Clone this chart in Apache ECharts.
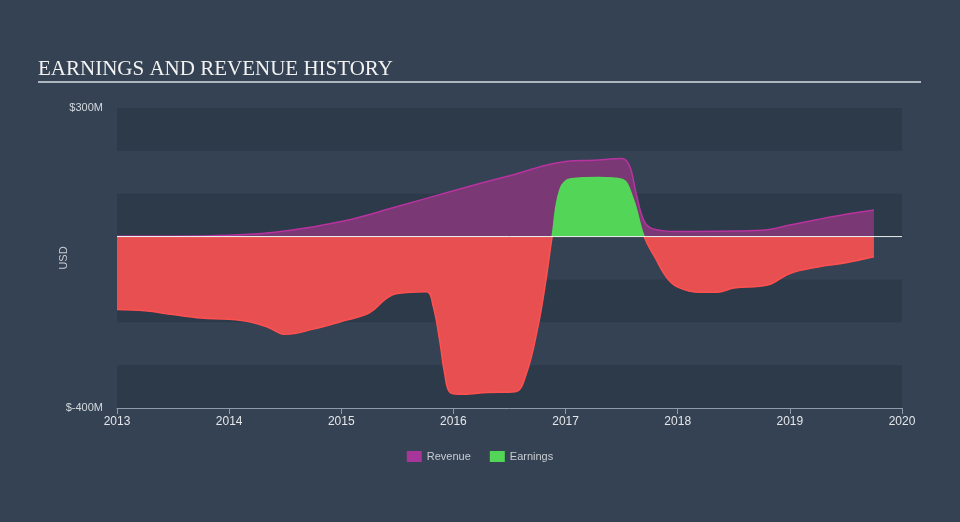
<!DOCTYPE html>
<html>
<head>
<meta charset="utf-8">
<script src="https://cdn.jsdelivr.net/npm/echarts@6/dist/echarts.min.js"></script>
<style>
html,body{margin:0;padding:0;background:#344253;}
#chart{width:960px;height:522px;}
</style>
</head>
<body>
<div id="chart"></div>
<script>
// Revenue (USD millions) by decimal year
const revenueYears = [2013.0, 2013.5, 2014.0, 2014.5, 2015.0, 2015.5, 2016.0, 2016.5, 2017.0, 2017.25, 2017.5, 2017.57, 2017.63, 2017.7, 2017.78, 2018.0, 2018.5, 2018.8, 2019.0, 2019.25, 2019.5, 2019.75];
const revenueValues = [1, 1, 3, 13, 35, 70, 107, 142, 175, 178, 182, 165, 100, 36, 18, 12, 13, 16, 27, 40, 52, 62];

// Earnings (USD millions) by decimal year
const earningsYears = [2013.0, 2013.25, 2013.5, 2013.75, 2014.0, 2014.2, 2014.35, 2014.5, 2014.75, 2015.0, 2015.25, 2015.4, 2015.5, 2015.76, 2015.82, 2015.88, 2015.92, 2015.97, 2016.05, 2016.3, 2016.55, 2016.65, 2016.75, 2016.82, 2016.88, 2016.95, 2017.05, 2017.3, 2017.5, 2017.6, 2017.7, 2017.8, 2017.9, 2018.0, 2018.2, 2018.35, 2018.5, 2018.8, 2019.0, 2019.25, 2019.5, 2019.75];
const earningsValues = [-170, -173, -182, -190, -193, -200, -212, -228, -216, -198, -178, -145, -133, -129, -163, -247, -317, -364, -368, -364, -362, -320, -215, -110, 0, 110, 135, 138, 134, 90, 0, -50, -95, -118, -130, -130, -120, -113, -86, -71, -61, -47];

const yTicksShown = [-400, 300];
const xYears = [2013, 2014, 2015, 2016, 2017, 2018, 2019, 2020];

const revenueData = revenueYears.map((x, i) => [x, revenueValues[i]]);
const earningsData = earningsYears.map((x, i) => [x, earningsValues[i]]);

const Y_MIN = -400, Y_MAX = 300;
const gridTop = 108, gridBottom = 114, H = 522;
const plotH = H - gridTop - gridBottom;
const zeroFrac = (Y_MAX - 0) / (Y_MAX - Y_MIN);
const signGradient = (up, down) => new echarts.graphic.LinearGradient(0, gridTop, 0, gridTop + plotH, [
  { offset: 0, color: up }, { offset: zeroFrac, color: up },
  { offset: zeroFrac, color: down }, { offset: 1, color: down }
], true);

const chart = echarts.init(document.getElementById('chart'));
chart.setOption({
  backgroundColor: '#344253',
  animation: false,
  title: {
    text: 'EARNINGS AND REVENUE HISTORY',
    left: 33, top: 54,
    textStyle: { fontFamily: 'Liberation Serif', fontSize: 21, fontWeight: 'normal', color: '#f2f2f2' }
  },
  graphic: [{
    type: 'line', shape: { x1: 38, y1: 82, x2: 921, y2: 82 },
    style: { stroke: '#aeb6bf', lineWidth: 2 }, silent: true
  }],
  legend: {
    bottom: 55, left: 'center',
    itemWidth: 15, itemHeight: 11, itemGap: 19,
    icon: 'rect',
    textStyle: { color: '#c8ccd2', fontSize: 11, fontFamily: 'Liberation Sans' },
    data: ['Revenue', 'Earnings']
  },
  grid: { left: 117, right: 58, top: gridTop, bottom: gridBottom },
  xAxis: {
    type: 'value', min: 2013, max: 2020, interval: 1,
    axisLine: { onZero: false, lineStyle: { color: '#8d9bab', width: 1 } },
    axisTick: { show: true, length: 6, lineStyle: { color: '#8d9bab' } },
    axisLabel: { color: '#e4e6ea', fontSize: 12, fontFamily: 'Liberation Sans', margin: 8,
      formatter: v => xYears.includes(v) ? String(v) : '' },
    splitLine: { show: false }
  },
  yAxis: {
    type: 'value', min: Y_MIN, max: Y_MAX, interval: 100,
    name: 'USD', nameLocation: 'middle', nameGap: 48, nameRotate: 90,
    nameMoveOverlap: false,
    nameTextStyle: { color: '#c8ccd2', fontSize: 11, fontFamily: 'Liberation Sans' },
    axisLine: { show: false }, axisTick: { show: false },
    axisLabel: { color: '#d4d8dd', fontSize: 11, fontFamily: 'Liberation Sans', margin: 14,
      formatter: v => yTicksShown.includes(v) ? '$' + v + 'M' : '' },
    splitLine: { show: false },
    splitArea: { show: true, areaStyle: { color: ['#2d3a4a', 'rgba(0,0,0,0)'] } }
  },
  series: [
    {
      name: 'Revenue', type: 'line', data: revenueData,
      smooth: 0.4, symbol: 'none',
      itemStyle: { color: '#a8359a' },
      lineStyle: { color: '#b8339f', width: 1.5 },
      areaStyle: { color: '#7a3874', opacity: 1 },
      z: 2
    },
    {
      name: 'Earnings', type: 'line', data: earningsData,
      smooth: 0.4, symbol: 'none',
      itemStyle: { color: '#53d657' },
      lineStyle: { width: 1.5, color: signGradient('#53d657', '#ff5050') },
      areaStyle: { opacity: 1, color: signGradient('#53d657', '#e84f51') },
      z: 3
    },
    {
      name: 'zero', type: 'line', data: [[2013, 0], [2020, 0]],
      symbol: 'none', silent: true,
      lineStyle: { color: '#ffffff', width: 1, opacity: 0.9 },
      z: 4
    }
  ]
});
</script>
</body>
</html>
